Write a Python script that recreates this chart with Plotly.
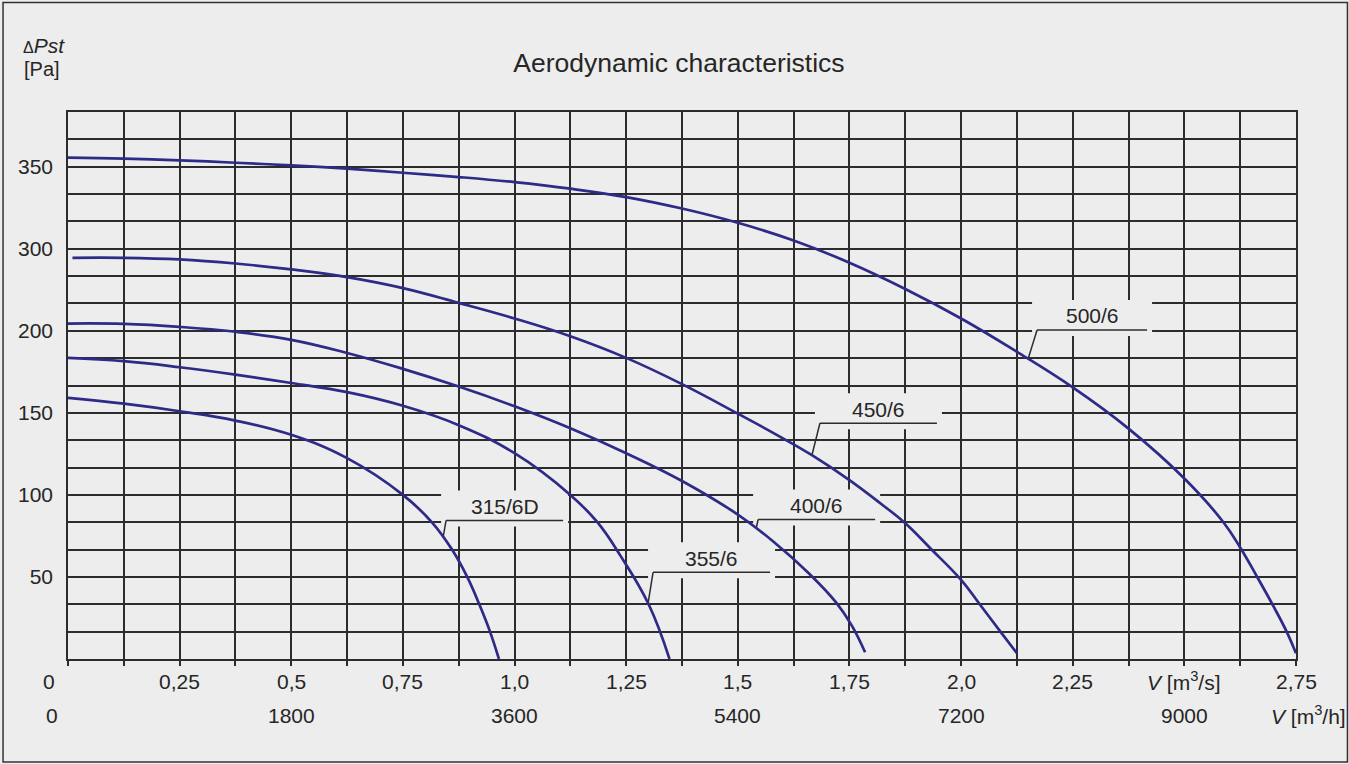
import numpy as np
import plotly.graph_objects as go

# ---------------- data ----------------
# flow rate V [m3/s] and static pressure (plot units) for each fan curve
q_315 = [0, 0.125, 0.25, 0.375, 0.5, 0.625, 0.75, 0.815, 0.86, 0.894, 0.921, 0.945, 0.965]
p_315 = [159.1, 155.6, 151.0, 145.3, 136.6, 122.4, 100.0, 83.3, 66.7, 50.0, 33.3, 16.7, 0]

q_355 = [0, 0.125, 0.25, 0.375, 0.5, 0.625, 0.75, 0.875, 1.0, 1.125, 1.185, 1.237, 1.30, 1.347]
p_355 = [183.5, 181.5, 177.8, 173.3, 168.2, 162.6, 154.3, 142.5, 125.4, 100.0, 83.5, 63.0, 33.5, 0]

q_400 = [0, 0.125, 0.25, 0.375, 0.5, 0.625, 0.75, 0.875, 1.0, 1.125, 1.25, 1.375, 1.5, 1.58, 1.66, 1.72, 1.755, 1.785]
p_400 = [204.4, 204.2, 202.4, 199.4, 194.5, 186.5, 176.8, 166.0, 154.0, 140.6, 125.4, 108.5, 88.0, 71.5, 52.0, 34.5, 20.5, 4.1]

q_450 = [0.01, 0.125, 0.25, 0.375, 0.5, 0.625, 0.75, 0.875, 1.0, 1.125, 1.25, 1.375, 1.5, 1.595, 1.666,
         1.75, 1.819, 1.875, 1.931, 2.0, 2.043, 2.088, 2.125]
p_450 = [244.5, 244.5, 243.5, 241.0, 237.4, 232.7, 226.0, 217.0, 207.5, 196.7, 183.5, 167.5, 149.5, 135.4, 124.2,
         109.0, 94.9, 82.7, 67.5, 48.2, 32.9, 16.7, 3.5]

q_500 = [0, 0.125, 0.25, 0.375, 0.5, 0.625, 0.75, 0.875, 1.0, 1.125, 1.25, 1.375, 1.5, 1.625, 1.75,
         1.875, 2.0, 2.125, 2.25, 2.375, 2.5, 2.587, 2.626, 2.662, 2.7, 2.729, 2.75]
p_500 = [305.5, 304.9, 303.9, 302.4, 300.8, 298.8, 296.3, 293.7, 290.6, 286.6, 281.5, 274.5, 265.8, 255.0, 241.5,
         225.5, 207.5, 187.2, 165.5, 140.4, 110.0, 83.5, 67.5, 50.5, 31.9, 16.7, 3.5]

fan_names = ["315/6D", "355/6", "400/6", "450/6", "500/6"]
fan_q = [q_315, q_355, q_400, q_450, q_500]
fan_p = [p_315, p_355, p_400, p_450, p_500]

# label callouts: point on curve (V) and pixel offsets of the underline start
label_q = [0.84, 1.299, 1.541, 1.666, 2.15]
label_dx = [3, 5, 2, 8, 9]
label_dy = [17, 31, 9, 32, 29]
label_len = [117, 117, 117, 117, 110]

# y ticks (labels as printed on the original chart)
y_tick_vals = [50, 100, 150, 200, 250, 300]
y_tick_text = ["50", "100", "150", "200", "300", "350"]

# x labels, row 1 (m3/s) and row 2 (m3/h)
x1_pos = [0, 0.25, 0.5, 0.75, 1.0, 1.25, 1.5, 1.75, 2.0, 2.25, 2.5, 2.75]
x1_text = ["0", "0,25", "0,5", "0,75", "1,0", "1,25", "1,5", "1,75", "2,0", "2,25",
           "<i>V</i> [m<sup>3</sup>/s]", "2,75"]
x2_vals_h = [0, 1800, 3600, 5400, 7200, 9000]
x2_text = ["0", "1800", "3600", "5400", "7200", "9000"]

# ---------------- style ----------------
BG = "#ECEDEC"
GRID = "#2C2C2C"
CURVE = "#2E2A88"
TXT = "#262626"
FONT = "Liberation Sans, Arial, sans-serif"

fig = go.Figure()

for name, q, p in zip(fan_names, fan_q, fan_p):
    fig.add_trace(go.Scatter(
        x=q, y=p, mode="lines", name=name, showlegend=False,
        line=dict(color=CURVE, width=2.7, shape="spline", smoothing=1.2),
        hovertemplate=name + "<br>V=%{x} m³/s<br>ΔPst=%{y}<extra></extra>",
    ))

# callouts
for name, q, p, lx, dx, dy, ln in zip(fan_names, fan_q, fan_p, label_q, label_dx, label_dy, label_len):
    ly = float(np.interp(lx, q, p))
    common = dict(xref="x", yref="y", xsizemode="pixel", ysizemode="pixel",
                  xanchor=lx, yanchor=ly)
    fig.add_shape(type="rect", x0=dx - 5, x1=dx + ln + 5, y0=dy - 6, y1=dy + 30,
                  fillcolor=BG, line=dict(width=0), layer="between", **common)
    fig.add_shape(type="line", x0=0, y0=0, x1=dx, y1=dy,
                  line=dict(color=GRID, width=1.5), layer="between", **common)
    fig.add_shape(type="line", x0=dx, y0=dy, x1=dx + ln, y1=dy,
                  line=dict(color=GRID, width=1.5), layer="between", **common)
    fig.add_annotation(x=lx, y=ly, xref="x", yref="y", text=name, showarrow=False,
                       xshift=dx + ln / 2, yshift=dy + 14,
                       font=dict(family=FONT, size=21, color=TXT))

# x labels row 1
for pos, txt in zip(x1_pos, x1_text):
    shift = -19 if pos == 0 else 0
    fig.add_annotation(x=pos, y=0, xref="x", yref="paper", text=txt, showarrow=False,
                       xshift=shift, yshift=-22, yanchor="middle",
                       font=dict(family=FONT, size=21, color=TXT))
# x labels row 2
for v, txt in zip(x2_vals_h, x2_text):
    shift = -16 if v == 0 else 0
    fig.add_annotation(x=v / 3600.0, y=0, xref="x", yref="paper", text=txt, showarrow=False,
                       xshift=shift, yshift=-56, yanchor="middle",
                       font=dict(family=FONT, size=21, color=TXT))
fig.add_annotation(x=2.75, y=0, xref="x", yref="paper", text="<i>V</i> [m<sup>3</sup>/h]",
                   showarrow=False, xshift=12, yshift=-56, yanchor="middle",
                   font=dict(family=FONT, size=21, color=TXT))

# y axis title
fig.add_annotation(x=-0.0385, y=1.1215, xref="paper", yref="paper",
                   text="<span style='font-size:16px'>Δ</span><i>Pst</i>",
                   showarrow=False, xanchor="left", yanchor="middle",
                   font=dict(family=FONT, size=21, color=TXT))
fig.add_annotation(x=-0.0375, y=1.0795, xref="paper", yref="paper", text="[Pa]",
                   showarrow=False, xanchor="left", yanchor="middle",
                   font=dict(family=FONT, size=20, color=TXT))

# outer frame
fig.add_shape(type="rect", xref="paper", yref="paper",
              x0=-0.0529, x1=1.0419, y0=-0.1883, y1=1.2002,
              line=dict(color="#333333", width=1.5), fillcolor="rgba(0,0,0,0)", layer="above")

fig.update_layout(
    width=1349, height=764,
    margin=dict(l=68, r=53, t=112, b=105),
    paper_bgcolor=BG, plot_bgcolor=BG,
    showlegend=False,
    title=dict(text="Aerodynamic characteristics", x=0.4975, xref="paper", xanchor="center",
               y=1 - 63 / 764, yanchor="middle",
               font=dict(family=FONT, size=26.5, color=TXT)),
    xaxis=dict(range=[0, 2.75], tick0=0, dtick=0.125, showgrid=True, gridcolor=GRID, gridwidth=1.5,
               showticklabels=False, ticks="outside", ticklen=5, tickcolor=GRID, tickwidth=1.5,
               showline=True, linecolor=GRID, linewidth=1.5, mirror=True, zeroline=False),
    yaxis=dict(range=[0, 1000 / 3], tickmode="array", tickvals=y_tick_vals, ticktext=y_tick_text,
               showgrid=True, gridcolor=GRID, gridwidth=1.5,
               ticks="outside", ticklen=9, tickcolor=BG,
               tickfont=dict(family=FONT, size=21, color=TXT),
               showline=True, linecolor=GRID, linewidth=1.5, mirror=True, zeroline=False,
               minor=dict(tick0=0, dtick=50 / 3, showgrid=True, gridcolor=GRID, gridwidth=1.5, ticks="")),
)

fig.write_html(
    "out.html",
    config={"displayModeBar": False},
    post_script="document.body.style.margin='0px';document.body.style.overflow='hidden';",
)
